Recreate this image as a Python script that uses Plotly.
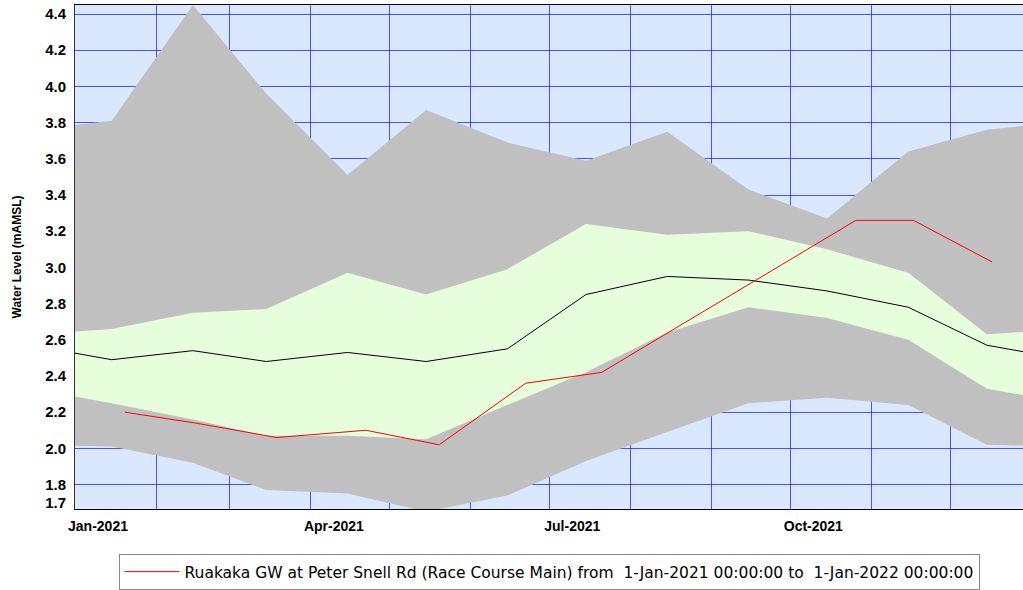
import plotly.graph_objects as go

# Monthly statistics (mid-month), Jan..Dec
months = ["2021-01-15", "2021-02-15", "2021-03-15", "2021-04-15", "2021-05-15", "2021-06-15",
          "2021-07-15", "2021-08-15", "2021-09-15", "2021-10-15", "2021-11-15", "2021-12-15"]
stat_max = [3.81, 4.45, 3.96, 3.51, 3.87, 3.69, 3.59, 3.75, 3.43, 3.27, 3.64, 3.76]
stat_p75 = [2.66, 2.75, 2.77, 2.97, 2.85, 2.99, 3.24, 3.18, 3.20, 3.10, 2.97, 2.63]
stat_median = [2.49, 2.54, 2.48, 2.53, 2.48, 2.55, 2.85, 2.95, 2.93, 2.87, 2.78, 2.57]
stat_p25 = [2.25, 2.16, 2.07, 2.07, 2.05, 2.24, 2.42, 2.64, 2.78, 2.72, 2.60, 2.33]
stat_min = [2.01, 1.92, 1.77, 1.75, 1.65, 1.74, 1.93, 2.09, 2.25, 2.28, 2.24, 2.02]
# wrap-around months either side of the year
prev_month = "2020-12-15"
next_month = "2022-01-15"

# 2021 observations
obs_dates = ["2021-01-20", "2021-02-16", "2021-03-19", "2021-04-22", "2021-05-20",
             "2021-06-22", "2021-07-21", "2021-10-26", "2021-11-17", "2021-12-17"]
obs_values = [2.20, 2.14, 2.06, 2.10, 2.02, 2.36, 2.42, 3.26, 3.26, 3.03]
series_name = "Ruakaka GW at Peter Snell Rd (Race Course Main) from \u00a01-Jan-2021 00:00:00 to \u00a01-Jan-2022 00:00:00"

# Axis ticks
x_grid_dates = ["2021-01-01", "2021-02-01", "2021-03-01", "2021-04-01", "2021-05-01", "2021-06-01",
                "2021-07-01", "2021-08-01", "2021-09-01", "2021-10-01", "2021-11-01", "2021-12-01"]
x_tick_text = ["Jan-2021", "", "", "Apr-2021", "", "", "Jul-2021", "", "", "Oct-2021", "", ""]
y_label_vals = [1.7, 1.8, 2.0, 2.2, 2.4, 2.6, 2.8, 3.0, 3.2, 3.4, 3.6, 3.8, 4.0, 4.2, 4.4]
y_grid_vals = [1.8, 2.0, 2.2, 2.4, 2.6, 2.8, 3.0, 3.2, 3.4, 3.6, 3.8, 4.0, 4.2, 4.4]
y_title = "Water Level (mAMSL)"


def wrap(vals):
    return [vals[-1]] + list(vals) + [vals[0]]


bx = [prev_month] + months + [next_month]

GRAY = "#c0c0c0"
GREEN = "#e6fedc"
BG = "#d9e7ff"
GRID = "rgba(0,0,255,0.65)"

fig = go.Figure()
fig.add_trace(go.Scatter(x=bx, y=wrap(stat_max), mode="lines", line=dict(width=0, color=GRAY),
                         showlegend=False, hoverinfo="skip"))
fig.add_trace(go.Scatter(x=bx, y=wrap(stat_min), mode="lines", line=dict(width=0, color=GRAY),
                         fill="tonexty", fillcolor=GRAY, showlegend=False, hoverinfo="skip"))
fig.add_trace(go.Scatter(x=bx, y=wrap(stat_p75), mode="lines", line=dict(width=0, color=GREEN),
                         showlegend=False, hoverinfo="skip"))
fig.add_trace(go.Scatter(x=bx, y=wrap(stat_p25), mode="lines", line=dict(width=0, color=GREEN),
                         fill="tonexty", fillcolor=GREEN, showlegend=False, hoverinfo="skip"))
fig.add_trace(go.Scatter(x=bx, y=wrap(stat_median), mode="lines", line=dict(width=1, color="#000000"),
                         showlegend=False))
fig.add_trace(go.Scatter(x=obs_dates, y=obs_values, mode="lines", line=dict(width=1, color="#ff0000"),
                         name=series_name, showlegend=True))
# empty trace registering the grid overlay axis
fig.add_trace(go.Scatter(x=[], y=[], yaxis="y2", showlegend=False, hoverinfo="skip"))

yrange = [1.665, 4.45]
fig.update_layout(
    width=1023, height=590,
    margin=dict(l=75, r=0, t=5, b=79),
    paper_bgcolor="white",
    plot_bgcolor=BG,
    font=dict(family="Liberation Sans, Arial, sans-serif", color="#000000"),
    xaxis=dict(
        type="date",
        range=["2021-01-01", "2021-12-28 19:00"],
        tickmode="array", tickvals=x_grid_dates, ticktext=x_tick_text,
        ticklabelshift=23, ticks="", ticklabelstandoff=4,
        tickfont=dict(family="Liberation Sans, Arial, sans-serif", size=14, color="#000000", weight="bold"),
        showgrid=True, gridcolor=GRID, gridwidth=1,
        showline=True, linecolor="#000000", linewidth=1, mirror=True,
        zeroline=False,
    ),
    yaxis=dict(
        range=yrange,
        tickmode="array", tickvals=y_label_vals, ticktext=[f"{v:.1f}" for v in y_label_vals],
        ticks="", ticklabelstandoff=5,
        tickfont=dict(family="Liberation Sans, Arial, sans-serif", size=15, color="#000000", weight="bold"),
        showgrid=False,
        showline=True, linecolor="#333333", linewidth=1, mirror=True,
        zeroline=False,
        title=dict(text=y_title, standoff=20,
                   font=dict(family="Liberation Sans, Arial, sans-serif", size=12, color="#000000", weight="bold")),
    ),
    yaxis2=dict(
        overlaying="y", side="left", range=yrange,
        tickmode="array", tickvals=y_grid_vals, showticklabels=False, ticks="",
        showgrid=True, gridcolor=GRID, gridwidth=1,
        zeroline=False, showline=False,
    ),
    legend=dict(
        orientation="h", x=0.5, xanchor="center", y=-0.09, yanchor="top",
        bgcolor="white", bordercolor="#888888", borderwidth=1, itemwidth=55,
        font=dict(family="DejaVu Sans, Verdana, sans-serif", size=15.5, color="#000000"),
    ),
    hovermode=False,
)

fig.write_html("out.html", config={"displayModeBar": False},
               post_script="document.body.style.margin='0px';")
